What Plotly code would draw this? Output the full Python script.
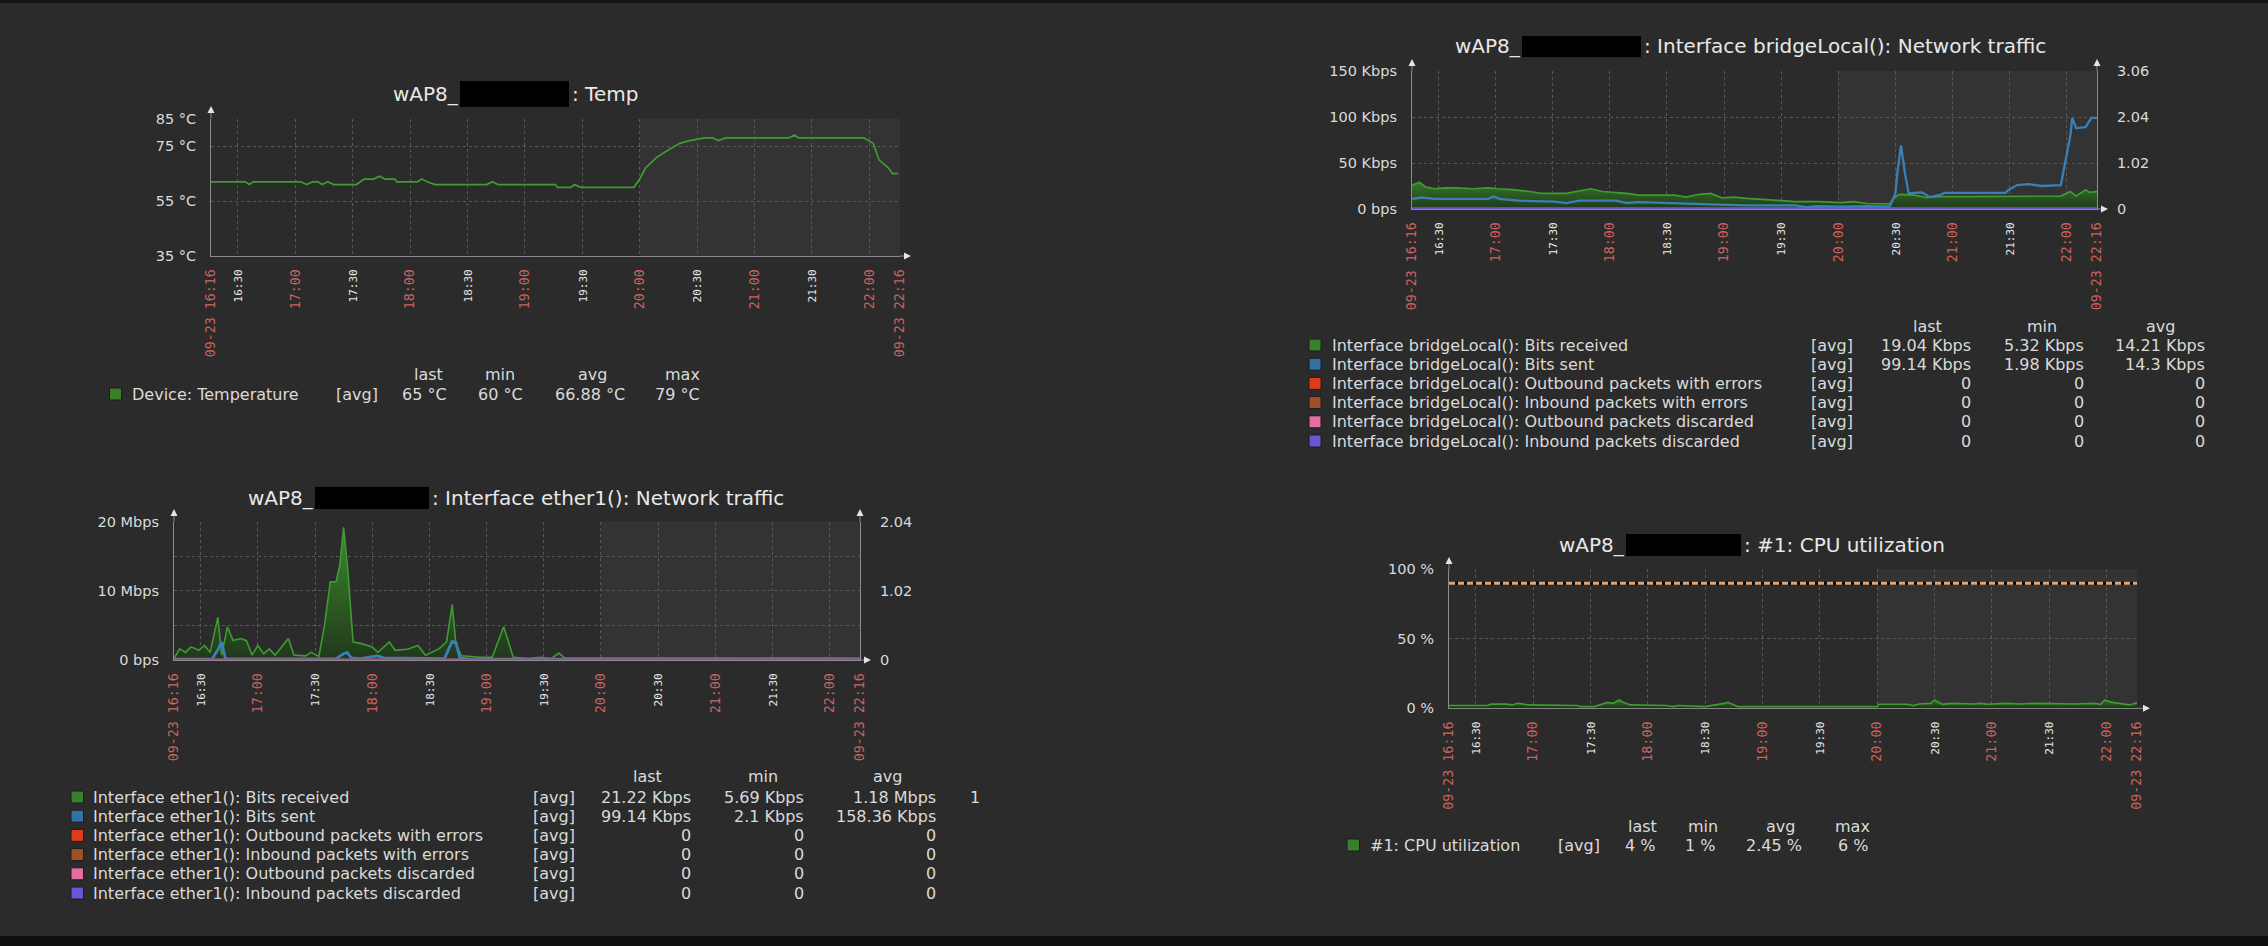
import plotly.graph_objects as go

W, H = 2268, 946

BG = "#2b2b2b"
SHADE = "#333333"
GRID = "#585858"
AXIS = "#8c8c8c"
ARROW = "#e4e4e4"
TXT = "#dadada"
TITLE_C = "#e8e8e8"
RED = "#cc625d"
WHITE = "#e8e8e8"
FONT = "DejaVu Sans"
MONO = "DejaVu Sans Mono"
DAY = "2023-09-23 "

GREEN_LINE = "#3f9a32"
BLUE_LINE = "#3a80b8"
C_RECV = "#3a7f2a"
C_SENT = "#3570a2"
C_OUTERR = "#dc3c1e"
C_INERR = "#a05028"
C_OUTDISC = "#e46ea0"
C_INDISC = "#6657d4"

# ---------------- data ----------------
temp_time = ["16:16", "16:34", "16:36", "16:38", "17:03", "17:06", "17:09", "17:12", "17:14", "17:17",
             "17:20", "17:32", "17:36", "17:41", "17:44", "17:47", "17:52", "17:53", "18:04", "18:06",
             "18:09", "18:13", "18:40", "18:43", "18:46", "19:16", "19:17", "19:24", "19:26", "19:29",
             "19:57", "20:00", "20:03", "20:09", "20:16", "20:21", "20:26", "20:34", "20:38", "20:41",
             "20:45", "21:18", "21:21", "21:23", "21:57", "22:02", "22:05", "22:10", "22:12", "22:15"]
temp_c = [62, 62, 61, 62, 62, 61, 62, 62, 61, 62,
          61, 61, 63, 63, 64, 63, 63, 62, 62, 63,
          62, 61, 61, 62, 61, 61, 60, 60, 61, 60,
          60, 63, 67, 71, 74, 76, 77, 78, 78, 77,
          78, 78, 79, 78, 78, 76, 70, 67, 65, 65]

br_recv_time = ["16:16", "16:20", "16:23", "16:28", "16:33", "16:40", "16:48", "16:56", "17:01", "17:09",
                "17:18", "17:24", "17:37", "17:50", "17:56", "18:05", "18:09", "18:15", "18:34", "18:40",
                "18:47", "18:53", "18:59", "19:05", "19:12", "19:24", "19:30", "19:37", "19:49", "20:02",
                "20:08", "20:15", "20:27", "20:29", "20:32", "20:40", "20:46", "20:53", "21:05", "21:24",
                "21:40", "21:57", "22:02", "22:05", "22:10", "22:12", "22:16"]
br_recv_kbps = [26, 29, 24, 22, 23, 23, 22, 23, 22, 21,
                19, 17, 17, 22, 19, 18, 17, 15, 15, 13,
                16, 17, 12, 13, 11.5, 10, 9, 8, 8, 7,
                8, 6, 5.5, 11, 16, 15, 12.5, 13.5, 13.5, 13.5,
                13.5, 14, 19, 14, 21, 18, 19]

br_sent_time = ["16:16", "16:21", "16:28", "16:56", "16:59", "17:02", "17:12", "17:31", "17:37", "17:44",
                "18:03", "18:09", "18:15", "18:28", "18:53", "19:12", "19:37", "19:43", "19:49", "20:02",
                "20:15", "20:27", "20:30", "20:31", "20:33", "20:35", "20:37", "20:40", "20:44", "20:48",
                "20:53", "20:56", "21:28", "21:29", "21:34", "21:40", "21:47", "21:57", "21:59", "22:02",
                "22:03", "22:05", "22:10", "22:13", "22:16"]
br_sent_kbps = [11, 12.5, 11, 11, 13.5, 11, 9, 8, 6.5, 9,
                9, 6.5, 7.5, 6.5, 5, 4, 4, 2, 3, 2.5,
                3, 2.5, 16, 38, 69, 40, 17, 17.5, 18, 13,
                15, 17.5, 17.5, 20, 26, 27, 25, 26, 48, 80,
                99, 88, 89, 99, 99]

eth_recv_time = ["16:16", "16:19", "16:22", "16:25", "16:29", "16:32", "16:35", "16:39", "16:41", "16:44",
                 "16:47", "16:51", "16:54", "16:57", "17:00", "17:03", "17:06", "17:09", "17:16", "17:19",
                 "17:25", "17:28", "17:32", "17:35", "17:38", "17:41", "17:43", "17:45", "17:47", "17:49",
                 "17:50", "17:54", "18:00", "18:03", "18:09", "18:12", "18:19", "18:24", "18:28", "18:35",
                 "18:39", "18:42", "18:44", "18:47", "18:57", "19:03", "19:06", "19:09", "19:11", "19:14",
                 "19:22", "19:28", "19:34", "19:38", "19:41", "22:16"]
eth_recv_mbps = [0.2, 1.6, 1.1, 1.9, 1.4, 2.1, 1.1, 6.2, 0.7, 4.8,
                 2.8, 3.1, 2.8, 0.7, 2.1, 0.9, 1.6, 0.7, 3.1, 0.7,
                 0.6, 1.1, 0.5, 5.0, 11.3, 11.3, 13.7, 19.2, 13.7, 6.4,
                 2.6, 2.4, 1.9, 1.1, 2.6, 1.4, 1.6, 2.1, 0.7, 1.6,
                 2.6, 8.0, 2.1, 0.6, 0.4, 0.4, 2.6, 4.8, 3.1, 0.4,
                 0.2, 0.4, 0.2, 1.0, 0.3, 0.3]

eth_sent_time = ["16:16", "16:36", "16:39", "16:41", "16:43", "17:41", "17:45", "17:47", "17:49", "17:54",
                 "18:00", "18:03", "18:06", "18:38", "18:40", "18:42", "18:44", "18:46", "18:51", "22:16"]
eth_sent_mbps = [0.12, 0.12, 1.5, 2.6, 0.15, 0.2, 0.9, 1.1, 0.3, 0.2,
                 0.5, 0.6, 0.3, 0.2, 1.5, 2.7, 2.5, 0.3, 0.12, 0.1]

cpu_time = ["16:16", "16:36", "16:38", "16:46", "16:49", "16:52", "16:55", "16:57", "17:23", "17:25",
            "17:32", "17:37", "17:39", "17:42", "17:45", "17:47", "17:51", "18:10", "18:13", "18:16",
            "18:30", "18:40", "18:42", "18:47", "20:00", "20:01", "20:16", "20:19", "20:22", "20:28",
            "20:30", "20:34", "20:39", "20:50", "20:54", "20:58", "21:07", "21:15", "21:24", "21:43",
            "21:54", "21:57", "21:59", "22:03", "22:08", "22:12", "22:16"]
cpu_pct = [2, 2, 3, 3, 2.4, 3.6, 3, 2.4, 2, 1.2,
           1.2, 3.6, 4.3, 3.6, 6, 4.3, 2.4, 2, 1.2, 2,
           1.2, 3.6, 4.3, 1.2, 1.2, 2.9, 2.9, 2, 3.1, 3.6,
           6, 2.9, 3.6, 3.1, 3.6, 2.9, 3.6, 3.1, 3.6, 3.1,
           3.6, 2.9, 6, 4.3, 3.1, 2.4, 4]
cpu_trigger = 90

zero_time = ["16:16", "22:16"]
out_err = [0, 0]
in_err = [0, 0]
out_disc = [0, 0]
in_disc = [0, 0]

# time axis labels
tick_main = ["16:16", "22:16"]
tick_main_text = ["09-23 16:16", "09-23 22:16"]
tick_hours = ["17:00", "18:00", "19:00", "20:00", "21:00", "22:00"]
tick_halves = ["16:30", "17:30", "18:30", "19:30", "20:30", "21:30"]
work_start, work_end = "20:00", "22:16"

temp_y_vals = [35, 55, 75, 85]
temp_y_text = ["35 °C", "55 °C", "75 °C", "85 °C"]
temp_y_grid = [55, 75]
br_y_vals = [0, 50, 100, 150]
br_y_text = ["0 bps", "50 Kbps", "100 Kbps", "150 Kbps"]
br_y_grid = [50, 100, 150]
br_y2_vals = [0, 1.02, 2.04, 3.06]
eth_y_vals = [0, 10, 20]
eth_y_text = ["0 bps", "10 Mbps", "20 Mbps"]
eth_y_grid = [5, 10, 15, 20]
eth_y2_vals = [0, 1.02, 2.04]
cpu_y_vals = [0, 50, 100]
cpu_y_text = ["0 %", "50 %", "100 %"]
cpu_y_grid = [50, 100]

# legends
temp_items = ["Device: Temperature"]
temp_stats = [["65 °C", "60 °C", "66.88 °C", "79 °C"]]
br_items = ["Interface bridgeLocal(): Bits received", "Interface bridgeLocal(): Bits sent",
            "Interface bridgeLocal(): Outbound packets with errors", "Interface bridgeLocal(): Inbound packets with errors",
            "Interface bridgeLocal(): Outbound packets discarded", "Interface bridgeLocal(): Inbound packets discarded"]
br_stats = [["19.04 Kbps", "5.32 Kbps", "14.21 Kbps"], ["99.14 Kbps", "1.98 Kbps", "14.3 Kbps"],
            ["0", "0", "0"], ["0", "0", "0"], ["0", "0", "0"], ["0", "0", "0"]]
eth_items = ["Interface ether1(): Bits received", "Interface ether1(): Bits sent",
             "Interface ether1(): Outbound packets with errors", "Interface ether1(): Inbound packets with errors",
             "Interface ether1(): Outbound packets discarded", "Interface ether1(): Inbound packets discarded"]
eth_stats = [["21.22 Kbps", "5.69 Kbps", "1.18 Mbps"], ["99.14 Kbps", "2.1 Kbps", "158.36 Kbps"],
             ["0", "0", "0"], ["0", "0", "0"], ["0", "0", "0"], ["0", "0", "0"]]
eth_cut_max = "1"
cpu_items = ["#1: CPU utilization"]
cpu_stats = [["4 %", "1 %", "2.45 %", "6 %"]]
net_colors = [C_RECV, C_SENT, C_OUTERR, C_INERR, C_OUTDISC, C_INDISC]

LEG_SIZE = 16
TITLE_SIZE = 20


def X(px):
    return px / W


def Y(py):
    return 1 - py / H


def ts(hm):
    return DAY + hm


def tsl(lst):
    return [ts(t) for t in lst]


# panel pixel boxes (left, right, top, bottom)
P = {
    "temp": (211, 900, 118.6, 256),
    "br": (1412, 2097, 71, 209),
    "eth": (174, 860, 521.7, 660),
    "cpu": (1449, 2137, 569.3, 708.3),
}

tickvals = tsl(tick_main + tick_hours + tick_halves)
ticktext = tick_main_text + tick_hours + [
    f'<span style="font-size:11px;color:{WHITE}">{h}</span>' for h in tick_halves]
gridvals = tsl(tick_hours + tick_halves)


def time_axis(key, anchor):
    l, r, t, b = P[key]
    return dict(domain=[X(l), X(r)], anchor=anchor, type="date", automargin=False,
                range=[ts("16:16"), ts("22:16")], tickmode="array",
                tickvals=tickvals, ticktext=ticktext, tickangle=-90,
                tickfont=dict(family=MONO, size=13.3, color=RED), ticks="",
                showgrid=False, zeroline=False,
                minor=dict(tickmode="array", tickvals=gridvals, showgrid=True,
                           gridcolor=GRID, griddash="dot", gridwidth=1, ticks=""),
                showline=True, linecolor=AXIS, linewidth=1, layer="below traces",
                ticklabelstandoff=7, fixedrange=True)


def val_axis(key, anchor, rng, vals, texts, grid):
    l, r, t, b = P[key]
    return dict(domain=[Y(b), Y(t)], anchor=anchor, range=rng, tickmode="array", automargin=False,
                tickvals=vals, ticktext=texts, ticks="", showgrid=False, zeroline=False,
                minor=dict(tickmode="array", tickvals=grid, showgrid=True,
                           gridcolor=GRID, griddash="dot", gridwidth=1, ticks=""),
                showline=True, linecolor=AXIS, linewidth=1, layer="below traces",
                tickfont=dict(family=FONT, size=14.5, color=TXT),
                ticklabelstandoff=11, fixedrange=True)


def right_axis(over, anchor, rng, vals):
    return dict(overlaying=over, anchor=anchor, side="right", range=rng, automargin=False,
                tickmode="array", tickvals=vals, ticktext=[f"{v:g}" for v in vals],
                ticks="", showgrid=False, zeroline=False, showline=True,
                linecolor=AXIS, linewidth=1, layer="below traces",
                tickfont=dict(family=FONT, size=14.5, color=TXT),
                ticklabelstandoff=16, fixedrange=True)


fig = go.Figure()


def grad(stop):
    return dict(type="vertical", start=0, stop=stop,
                colorscale=[[0, "rgb(32,56,28)"], [1, "rgb(62,142,44)"]])


# temp
fig.add_trace(go.Scatter(x=tsl(temp_time), y=temp_c, mode="lines",
                         line=dict(color=GREEN_LINE, width=1.7), xaxis="x", yaxis="y"))
# bridgeLocal
fig.add_trace(go.Scatter(x=tsl(br_recv_time), y=br_recv_kbps, mode="lines", fill="tozeroy",
                         fillgradient=grad(40), line=dict(color=GREEN_LINE, width=1.7),
                         xaxis="x2", yaxis="y2"))
fig.add_trace(go.Scatter(x=tsl(br_sent_time), y=br_sent_kbps, mode="lines",
                         line=dict(color=BLUE_LINE, width=2.3), xaxis="x2", yaxis="y2"))
for vals, col in [(out_err, C_OUTERR), (in_err, C_INERR), (out_disc, C_OUTDISC), (in_disc, C_INDISC)]:
    fig.add_trace(go.Scatter(x=tsl(zero_time), y=vals, mode="lines",
                             line=dict(color=col, width=2.4), xaxis="x2", yaxis="y5"))
# ether1
fig.add_trace(go.Scatter(x=tsl(eth_recv_time), y=eth_recv_mbps, mode="lines", fill="tozeroy",
                         fillgradient=grad(20), line=dict(color=GREEN_LINE, width=1.6),
                         xaxis="x3", yaxis="y3"))
fig.add_trace(go.Scatter(x=tsl(eth_sent_time), y=eth_sent_mbps, mode="lines",
                         line=dict(color=BLUE_LINE, width=2.8), xaxis="x3", yaxis="y3"))
for vals, col in [(out_err, C_OUTERR), (in_err, C_INERR), (out_disc, C_OUTDISC), (in_disc, C_INDISC)]:
    fig.add_trace(go.Scatter(x=tsl(zero_time), y=vals, mode="lines",
                             line=dict(color=col, width=2.6), xaxis="x3", yaxis="y6"))
# cpu
fig.add_trace(go.Scatter(x=tsl(cpu_time), y=cpu_pct, mode="lines", fill="tozeroy",
                         fillgradient=grad(8), line=dict(color=GREEN_LINE, width=1.7),
                         xaxis="x4", yaxis="y4"))
fig.add_trace(go.Scatter(x=tsl(zero_time), y=[cpu_trigger, cpu_trigger], mode="lines",
                         line=dict(color="#0a0a0a", width=3), xaxis="x4", yaxis="y4"))
fig.add_trace(go.Scatter(x=tsl(zero_time), y=[cpu_trigger, cpu_trigger], mode="lines",
                         line=dict(color="#e2a676", width=3, dash="6px,3px"), xaxis="x4", yaxis="y4"))

shapes = []
annotations = []

# working-time shading
for xr, yr in [("x", "y"), ("x2", "y2"), ("x3", "y3"), ("x4", "y4")]:
    shapes.append(dict(type="rect", xref=xr, yref=yr + " domain", x0=ts(work_start), x1=ts(work_end),
                       y0=0, y1=1, fillcolor=SHADE, line=dict(width=0), layer="below"))


def up_arrow(x, tip, bottom_of_line):
    shapes.append(dict(type="line", xref="paper", yref="paper", x0=X(x), x1=X(x),
                       y0=Y(bottom_of_line), y1=Y(tip + 6), line=dict(color=AXIS, width=1)))
    shapes.append(dict(type="path", xref="paper", yref="paper",
                       path=f"M {X(x-3.5)},{Y(tip+7)} L {X(x)},{Y(tip)} L {X(x+3.5)},{Y(tip+7)} Z",
                       fillcolor=ARROW, line=dict(width=0)))


def right_arrow(start, tip, y):
    shapes.append(dict(type="line", xref="paper", yref="paper", x0=X(start), x1=X(tip - 6),
                       y0=Y(y), y1=Y(y), line=dict(color=AXIS, width=1)))
    shapes.append(dict(type="path", xref="paper", yref="paper",
                       path=f"M {X(tip-7)},{Y(y-3.5)} L {X(tip)},{Y(y)} L {X(tip-7)},{Y(y+3.5)} Z",
                       fillcolor=ARROW, line=dict(width=0)))


l, r, t, b = P["temp"]
up_arrow(l, 106, t); right_arrow(r, 911, b)
l, r, t, b = P["br"]
up_arrow(l, 59, t); up_arrow(r, 59, t); right_arrow(r, 2108, b)
l, r, t, b = P["eth"]
up_arrow(l, 509, t); up_arrow(r, 509, t); right_arrow(r, 871, b)
l, r, t, b = P["cpu"]
up_arrow(l, 557, t); right_arrow(r, 2150, b)


def txt(s, px, py, size=LEG_SIZE, color=TXT, anchor="left", family=FONT):
    annotations.append(dict(text=s, x=X(px), y=Y(py), xref="paper", yref="paper",
                            xanchor=anchor, yanchor="middle", showarrow=False,
                            font=dict(family=family, size=size, color=color)))


# titles with redaction boxes
titles = [
    ("wAP8_", ": Temp", (460, 569, 81, 107), 94),
    ("wAP8_", ": Interface bridgeLocal(): Network traffic", (1522, 1641, 36, 57), 46.5),
    ("wAP8_", ": Interface ether1(): Network traffic", (315, 429, 487, 509), 498),
    ("wAP8_", ": #1: CPU utilization", (1626, 1741, 534, 556), 545),
]
for left_t, right_t, (bx0, bx1, by0, by1), ty in titles:
    txt(left_t, bx0 + 1, ty, size=TITLE_SIZE, color=TITLE_C, anchor="right")
    txt(right_t, bx1 + 1, ty, size=TITLE_SIZE, color=TITLE_C, anchor="left")
    shapes.append(dict(type="rect", xref="paper", yref="paper", x0=X(bx0), x1=X(bx1),
                       y0=Y(by1), y1=Y(by0), fillcolor="#000000", line=dict(width=0), layer="above"))


def legend(items, stats, colors, headers, header_y, row_y, sw, label_x, avg_x, centers, rights):
    for h, cx in zip(headers, centers):
        txt(h, cx, header_y, anchor="center")
    for i, (name, vals, col) in enumerate(zip(items, stats, colors)):
        cy = row_y[i]
        shapes.append(dict(type="rect", xref="paper", yref="paper", x0=X(sw[0]), x1=X(sw[1]),
                           y0=Y(cy + 6), y1=Y(cy - 6), fillcolor=col,
                           line=dict(color="#1c1c1c", width=1)))
        txt(name, label_x, cy)
        txt("[avg]", avg_x, cy)
        for v, rx in zip(vals, rights):
            txt(v, rx, cy, anchor="right")


legend(temp_items, temp_stats, [C_RECV], ["last", "min", "avg", "max"], 375, [394],
       (109.5, 121.5), 130, 334, [428, 500, 592, 682], [449, 525, 627, 702])
legend(br_items, br_stats, net_colors, ["last", "min", "avg"], 326,
       [345, 364.2, 383.4, 402.6, 421.8, 441], (1309, 1321), 1330, 1809,
       [1927, 2042, 2160], [1973, 2086, 2207])
legend(eth_items, eth_stats, net_colors, ["last", "min", "avg"], 776,
       [797, 816.2, 835.4, 854.6, 873.8, 893], (71, 83.5), 91, 531,
       [647.5, 763, 887], [692.5, 806.4, 938.3])
txt(eth_cut_max, 968, 797)
legend(cpu_items, cpu_stats, [C_RECV], ["last", "min", "avg", "max"], 826, [845],
       (1347, 1359.5), 1368, 1556, [1642, 1703, 1780, 1852], [1657, 1717, 1804.5, 1870])

# dark frame strips
shapes.append(dict(type="rect", xref="paper", yref="paper", x0=0, x1=1, y0=Y(3), y1=1,
                   fillcolor="#141414", line=dict(width=0), layer="above"))
shapes.append(dict(type="rect", xref="paper", yref="paper", x0=0, x1=1, y0=0, y1=Y(936),
                   fillcolor="#0f1011", line=dict(width=0), layer="above"))

fig.update_layout(
    template="none",
    width=W, height=H, autosize=False,
    margin=dict(l=0, r=0, t=0, b=0, pad=0, autoexpand=False),
    paper_bgcolor=BG, plot_bgcolor=BG, showlegend=False, hovermode=False,
    font=dict(family=FONT, color=TXT),
    xaxis=time_axis("temp", "y"),
    xaxis2=time_axis("br", "y2"),
    xaxis3=time_axis("eth", "y3"),
    xaxis4=time_axis("cpu", "y4"),
    yaxis=val_axis("temp", "x", [35, 85], temp_y_vals, temp_y_text, temp_y_grid),
    yaxis2=val_axis("br", "x2", [0, 150], br_y_vals, br_y_text, br_y_grid),
    yaxis3=val_axis("eth", "x3", [0, 20], eth_y_vals, eth_y_text, eth_y_grid),
    yaxis4=val_axis("cpu", "x4", [0, 100], cpu_y_vals, cpu_y_text, cpu_y_grid),
    yaxis5=right_axis("y2", "x2", [0, 3.06], br_y2_vals),
    yaxis6=right_axis("y3", "x3", [0, 2.04], eth_y2_vals),
    shapes=shapes, annotations=annotations,
)

fig.write_html("out.html")
